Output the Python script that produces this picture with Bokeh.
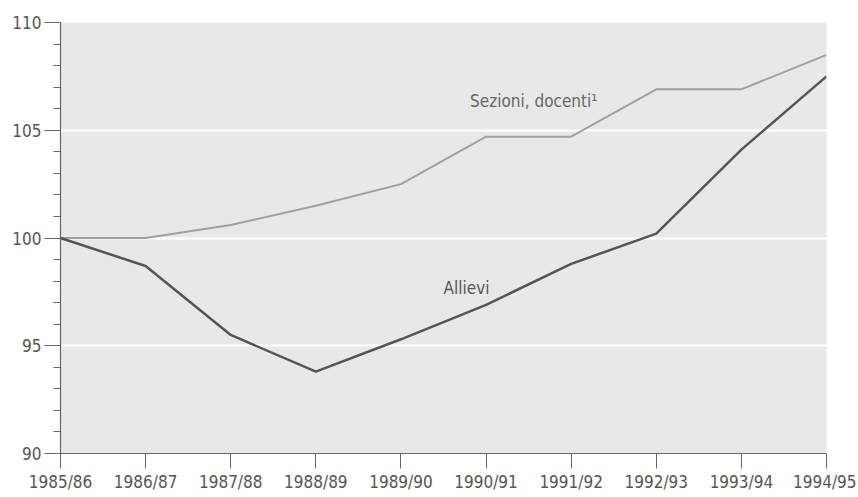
from bokeh.plotting import figure
from bokeh.models import Range1d, FixedTicker, Label
from bokeh.embed import file_html
from bokeh.resources import INLINE

years = ["1985/86", "1986/87", "1987/88", "1988/89", "1989/90",
         "1990/91", "1991/92", "1992/93", "1993/94", "1994/95"]
allievi = [100.0, 98.7, 95.5, 93.8, 95.3, 96.9, 98.8, 100.2, 104.1, 107.5]
sezioni = [100.0, 100.0, 100.6, 101.5, 102.5, 104.7, 104.7, 106.9, 106.9, 108.5]
y_major = [90, 95, 100, 105, 110]
y_minor = list(range(90, 111))
grid_vals = [95, 100, 105]

FONT = "'Liberation Sans Narrow', 'DejaVu Sans Condensed', sans-serif"
idx = list(range(len(years)))

p = figure(width=856, height=495, output_backend="svg", toolbar_location=None,
           x_range=Range1d(0, len(years) - 1), y_range=Range1d(90, 110),
           min_border_left=60, min_border_right=30, min_border_top=22,
           min_border_bottom=42)
p.outline_line_color = None
p.background_fill_color = "#e8e8e8"
p.border_fill_color = "white"

p.xgrid.grid_line_color = None
p.ygrid.ticker = FixedTicker(ticks=grid_vals)
p.ygrid.grid_line_color = "white"
p.ygrid.grid_line_width = 2

p.xaxis.ticker = FixedTicker(ticks=idx)
p.xaxis.major_label_overrides = {i: y for i, y in enumerate(years)}
p.yaxis.ticker = FixedTicker(ticks=y_major, minor_ticks=y_minor)

for ax in (p.xaxis[0], p.yaxis[0]):
    ax.axis_line_color = "#666666"
    ax.axis_line_width = 1.2
    ax.major_tick_line_color = "#666666"
    ax.minor_tick_line_color = "#666666"
    ax.major_tick_in = 0
    ax.minor_tick_in = 0
    ax.major_label_text_font = FONT
    ax.major_label_text_font_size = "17px"
    ax.major_label_text_color = "#555555"

p.yaxis.major_tick_out = 16
p.yaxis.minor_tick_out = 7
p.yaxis.major_label_standoff = 3
p.xaxis.major_tick_out = 15
p.xaxis.minor_tick_line_color = None
p.xaxis.major_label_standoff = 3

p.line(idx, sezioni, line_color="#a0a0a0", line_width=2)
p.line(idx, allievi, line_color="#555555", line_width=2.5)

p.add_layout(Label(x=5.56, y=106.35, text="Sezioni, docenti¹", text_font=FONT,
                   text_font_size="17px", text_color="#666666",
                   text_align="center", text_baseline="middle"))
p.add_layout(Label(x=4.77, y=97.7, text="Allievi", text_font=FONT,
                   text_font_size="17px", text_color="#555555",
                   text_align="center", text_baseline="middle"))

open("out.html", "w").write(file_html(p, INLINE))
